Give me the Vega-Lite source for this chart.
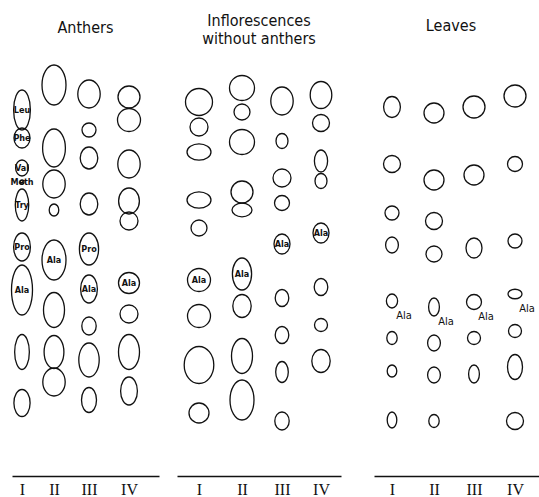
{
  "$schema": "https://vega.github.io/schema/vega-lite/v6.json",
  "background": "white",
  "padding": {"left": 8, "top": 13, "right": 0, "bottom": 0},
  "data": {"values": [
    {"panel": "Anthers", "lane": 1, "d": 366, "len": 40, "form": "slender", "label": "Leu"},
    {"panel": "Anthers", "lane": 1, "d": 338, "len": 20, "form": "oval", "label": "Phe"},
    {"panel": "Anthers", "lane": 1, "d": 308, "len": 16, "form": "oval", "label": "Val"},
    {"panel": "Anthers", "lane": 1, "d": 294, "len": 4, "form": "round", "label": "Meth"},
    {"panel": "Anthers", "lane": 1, "d": 271, "len": 32, "form": "slender", "label": "Try"},
    {"panel": "Anthers", "lane": 1, "d": 229, "len": 28, "form": "tall", "label": "Pro"},
    {"panel": "Anthers", "lane": 1, "d": 186, "len": 50, "form": "slender", "label": "Ala"},
    {"panel": "Anthers", "lane": 1, "d": 124, "len": 35, "form": "slender", "label": null},
    {"panel": "Anthers", "lane": 1, "d": 73, "len": 27, "form": "tall", "label": null},
    {"panel": "Anthers", "lane": 2, "d": 391, "len": 40, "form": "tall", "label": null},
    {"panel": "Anthers", "lane": 2, "d": 328, "len": 38, "form": "tall", "label": null},
    {"panel": "Anthers", "lane": 2, "d": 292, "len": 28, "form": "oval", "label": null},
    {"panel": "Anthers", "lane": 2, "d": 266, "len": 12, "form": "oval", "label": null},
    {"panel": "Anthers", "lane": 2, "d": 216, "len": 40, "form": "tall", "label": "Ala"},
    {"panel": "Anthers", "lane": 2, "d": 166, "len": 35, "form": "tall", "label": null},
    {"panel": "Anthers", "lane": 2, "d": 124, "len": 33, "form": "tall", "label": null},
    {"panel": "Anthers", "lane": 2, "d": 94, "len": 28, "form": "oval", "label": null},
    {"panel": "Anthers", "lane": 3, "d": 382, "len": 28, "form": "oval", "label": null},
    {"panel": "Anthers", "lane": 3, "d": 346, "len": 14, "form": "round", "label": null},
    {"panel": "Anthers", "lane": 3, "d": 318, "len": 22, "form": "oval", "label": null},
    {"panel": "Anthers", "lane": 3, "d": 272, "len": 22, "form": "oval", "label": null},
    {"panel": "Anthers", "lane": 3, "d": 227, "len": 32, "form": "tall", "label": "Pro"},
    {"panel": "Anthers", "lane": 3, "d": 187, "len": 28, "form": "tall", "label": "Ala"},
    {"panel": "Anthers", "lane": 3, "d": 150, "len": 18, "form": "oval", "label": null},
    {"panel": "Anthers", "lane": 3, "d": 116, "len": 34, "form": "tall", "label": null},
    {"panel": "Anthers", "lane": 3, "d": 76, "len": 25, "form": "tall", "label": null},
    {"panel": "Anthers", "lane": 4, "d": 379, "len": 22, "form": "round", "label": null},
    {"panel": "Anthers", "lane": 4, "d": 356, "len": 23, "form": "round", "label": null},
    {"panel": "Anthers", "lane": 4, "d": 312, "len": 28, "form": "oval", "label": null},
    {"panel": "Anthers", "lane": 4, "d": 275, "len": 26, "form": "oval", "label": null},
    {"panel": "Anthers", "lane": 4, "d": 255, "len": 18, "form": "round", "label": null},
    {"panel": "Anthers", "lane": 4, "d": 193, "len": 21, "form": "round", "label": "Ala"},
    {"panel": "Anthers", "lane": 4, "d": 162, "len": 18, "form": "round", "label": null},
    {"panel": "Anthers", "lane": 4, "d": 124, "len": 35, "form": "tall", "label": null},
    {"panel": "Anthers", "lane": 4, "d": 85, "len": 28, "form": "tall", "label": null},

    {"panel": "Inflorescences", "lane": 1, "d": 374, "len": 27, "form": "round", "label": null},
    {"panel": "Inflorescences", "lane": 1, "d": 349, "len": 18, "form": "round", "label": null},
    {"panel": "Inflorescences", "lane": 1, "d": 324, "len": 24, "form": "wide", "label": null},
    {"panel": "Inflorescences", "lane": 1, "d": 276, "len": 24, "form": "wide", "label": null},
    {"panel": "Inflorescences", "lane": 1, "d": 248, "len": 16, "form": "round", "label": null},
    {"panel": "Inflorescences", "lane": 1, "d": 196, "len": 23, "form": "round", "label": "Ala"},
    {"panel": "Inflorescences", "lane": 1, "d": 160, "len": 23, "form": "round", "label": null},
    {"panel": "Inflorescences", "lane": 1, "d": 111, "len": 37, "form": "oval", "label": null},
    {"panel": "Inflorescences", "lane": 1, "d": 63, "len": 20, "form": "round", "label": null},
    {"panel": "Inflorescences", "lane": 2, "d": 388, "len": 25, "form": "round", "label": null},
    {"panel": "Inflorescences", "lane": 2, "d": 364, "len": 16, "form": "round", "label": null},
    {"panel": "Inflorescences", "lane": 2, "d": 334, "len": 25, "form": "round", "label": null},
    {"panel": "Inflorescences", "lane": 2, "d": 284, "len": 22, "form": "round", "label": null},
    {"panel": "Inflorescences", "lane": 2, "d": 266, "len": 20, "form": "wide", "label": null},
    {"panel": "Inflorescences", "lane": 2, "d": 202, "len": 32, "form": "tall", "label": "Ala"},
    {"panel": "Inflorescences", "lane": 2, "d": 170, "len": 23, "form": "oval", "label": null},
    {"panel": "Inflorescences", "lane": 2, "d": 120, "len": 35, "form": "tall", "label": null},
    {"panel": "Inflorescences", "lane": 2, "d": 76, "len": 40, "form": "tall", "label": null},
    {"panel": "Inflorescences", "lane": 3, "d": 375, "len": 28, "form": "oval", "label": null},
    {"panel": "Inflorescences", "lane": 3, "d": 335, "len": 15, "form": "oval", "label": null},
    {"panel": "Inflorescences", "lane": 3, "d": 298, "len": 18, "form": "round", "label": null},
    {"panel": "Inflorescences", "lane": 3, "d": 273, "len": 15, "form": "round", "label": null},
    {"panel": "Inflorescences", "lane": 3, "d": 232, "len": 20, "form": "oval", "label": "Ala"},
    {"panel": "Inflorescences", "lane": 3, "d": 178, "len": 17, "form": "oval", "label": null},
    {"panel": "Inflorescences", "lane": 3, "d": 141, "len": 17, "form": "oval", "label": null},
    {"panel": "Inflorescences", "lane": 3, "d": 104, "len": 21, "form": "tall", "label": null},
    {"panel": "Inflorescences", "lane": 3, "d": 55, "len": 18, "form": "oval", "label": null},
    {"panel": "Inflorescences", "lane": 4, "d": 381, "len": 27, "form": "oval", "label": null},
    {"panel": "Inflorescences", "lane": 4, "d": 353, "len": 17, "form": "round", "label": null},
    {"panel": "Inflorescences", "lane": 4, "d": 315, "len": 22, "form": "tall", "label": null},
    {"panel": "Inflorescences", "lane": 4, "d": 295, "len": 15, "form": "oval", "label": null},
    {"panel": "Inflorescences", "lane": 4, "d": 243, "len": 20, "form": "oval", "label": "Ala"},
    {"panel": "Inflorescences", "lane": 4, "d": 189, "len": 17, "form": "oval", "label": null},
    {"panel": "Inflorescences", "lane": 4, "d": 151, "len": 13, "form": "round", "label": null},
    {"panel": "Inflorescences", "lane": 4, "d": 115, "len": 23, "form": "oval", "label": null},

    {"panel": "Leaves", "lane": 1, "d": 369, "len": 21, "form": "oval", "label": null},
    {"panel": "Leaves", "lane": 1, "d": 312, "len": 17, "form": "round", "label": null},
    {"panel": "Leaves", "lane": 1, "d": 263, "len": 14, "form": "round", "label": null},
    {"panel": "Leaves", "lane": 1, "d": 231, "len": 16, "form": "oval", "label": null},
    {"panel": "Leaves", "lane": 1, "d": 175, "len": 14, "form": "oval", "label": "Ala"},
    {"panel": "Leaves", "lane": 1, "d": 138, "len": 13, "form": "oval", "label": null},
    {"panel": "Leaves", "lane": 1, "d": 105, "len": 12, "form": "oval", "label": null},
    {"panel": "Leaves", "lane": 1, "d": 56, "len": 16, "form": "tall", "label": null},
    {"panel": "Leaves", "lane": 2, "d": 363, "len": 20, "form": "round", "label": null},
    {"panel": "Leaves", "lane": 2, "d": 296, "len": 20, "form": "round", "label": null},
    {"panel": "Leaves", "lane": 2, "d": 255, "len": 17, "form": "round", "label": null},
    {"panel": "Leaves", "lane": 2, "d": 222, "len": 16, "form": "round", "label": null},
    {"panel": "Leaves", "lane": 2, "d": 169, "len": 18, "form": "tall", "label": "Ala"},
    {"panel": "Leaves", "lane": 2, "d": 133, "len": 16, "form": "oval", "label": null},
    {"panel": "Leaves", "lane": 2, "d": 101, "len": 16, "form": "oval", "label": null},
    {"panel": "Leaves", "lane": 2, "d": 55, "len": 13, "form": "oval", "label": null},
    {"panel": "Leaves", "lane": 3, "d": 369, "len": 22, "form": "round", "label": null},
    {"panel": "Leaves", "lane": 3, "d": 301, "len": 20, "form": "round", "label": null},
    {"panel": "Leaves", "lane": 3, "d": 228, "len": 20, "form": "oval", "label": null},
    {"panel": "Leaves", "lane": 3, "d": 174, "len": 15, "form": "round", "label": "Ala"},
    {"panel": "Leaves", "lane": 3, "d": 138, "len": 13, "form": "round", "label": null},
    {"panel": "Leaves", "lane": 3, "d": 102, "len": 18, "form": "tall", "label": null},
    {"panel": "Leaves", "lane": 4, "d": 380, "len": 22, "form": "round", "label": null},
    {"panel": "Leaves", "lane": 4, "d": 312, "len": 15, "form": "round", "label": null},
    {"panel": "Leaves", "lane": 4, "d": 235, "len": 14, "form": "round", "label": null},
    {"panel": "Leaves", "lane": 4, "d": 182, "len": 14, "form": "wide", "label": "Ala"},
    {"panel": "Leaves", "lane": 4, "d": 145, "len": 13, "form": "round", "label": null},
    {"panel": "Leaves", "lane": 4, "d": 109, "len": 25, "form": "tall", "label": null},
    {"panel": "Leaves", "lane": 4, "d": 55, "len": 17, "form": "round", "label": null}
  ]},
  "config": {
    "view": {"stroke": null},
    "title": {"font": "DejaVu Sans Condensed", "fontSize": 16, "fontWeight": "normal", "color": "#111111", "lineHeight": 18, "anchor": "middle"},
    "axis": {"grid": false, "ticks": false, "title": null, "domainColor": "#111111", "domainWidth": 1.5, "labelFont": "Liberation Serif", "labelFontSize": 16, "labelColor": "#111111", "labelPadding": 5, "labelFlush": false, "labelOverlap": false, "values": [1, 2, 3, 4], "labelExpr": "['', 'I', 'II', 'III', 'IV'][datum.value]"}
  },
  "spacing": 18,
  "bounds": "flush",
  "hconcat": [
    {
      "title": {"text": "Anthers", "offset": 14},
      "width": 147,
      "height": 426,
      "transform": [{"filter": "datum.panel === 'Anthers'"}],
      "encoding": {
        "x": {"field": "lane", "type": "quantitative", "scale": {"domain": [0.7, 1, 2, 3, 4, 4.8], "range": [0, 10, 42, 77, 117, 147], "nice": false, "zero": false}},
        "y": {"field": "d", "type": "quantitative", "scale": {"domain": [0, 426], "nice": false}, "axis": null}
      },
      "layer": [
        {
          "mark": {"type": "point", "filled": false, "color": "#111111", "strokeWidth": 1.3, "opacity": 1},
          "encoding": {
            "shape": {"field": "form", "type": "nominal", "legend": null, "scale": {"domain": ["round", "oval", "tall", "slender", "wide"], "range": ["circle", "M0.8,0C0.8,0.552 0.442,1 0,1C-0.442,1 -0.8,0.552 -0.8,0C-0.8,-0.552 -0.442,-1 0,-1C0.442,-1 0.8,-0.552 0.8,0Z", "M0.6,0C0.6,0.552 0.331,1 0,1C-0.331,1 -0.6,0.552 -0.6,0C-0.6,-0.552 -0.331,-1 0,-1C0.331,-1 0.6,-0.552 0.6,0Z", "M0.42,0C0.42,0.552 0.232,1 0,1C-0.232,1 -0.42,0.552 -0.42,0C-0.42,-0.552 -0.232,-1 0,-1C0.232,-1 0.42,-0.552 0.42,0Z", "M1,0C1,0.376 0.552,0.68 0,0.68C-0.552,0.68 -1,0.376 -1,0C-1,-0.376 -0.552,-0.68 0,-0.68C0.552,-0.68 1,-0.376 1,0Z"]}},
            "size": {"field": "len", "type": "quantitative", "legend": null, "scale": {"type": "pow", "exponent": 2, "domain": [0, 50], "range": [0, 2500]}}
          }
        },
        {
          "transform": [{"filter": "datum.label != null"}],
          "mark": {"type": "text", "font": "DejaVu Sans Condensed", "fontWeight": "bold", "fontSize": 9, "color": "#111111"},
          "encoding": {"text": {"field": "label"}}
        }
      ]
    },
    {
      "title": {"text": ["Inflorescences", "without anthers"], "offset": 3},
      "width": 164,
      "height": 426,
      "transform": [{"filter": "datum.panel === 'Inflorescences'"}],
      "encoding": {
        "x": {"field": "lane", "type": "quantitative", "scale": {"domain": [0.5, 1, 2, 3, 4, 4.5], "range": [0, 22, 65, 105, 144, 164], "nice": false, "zero": false}},
        "y": {"field": "d", "type": "quantitative", "scale": {"domain": [0, 426], "nice": false}, "axis": null}
      },
      "layer": [
        {
          "mark": {"type": "point", "filled": false, "color": "#111111", "strokeWidth": 1.3, "opacity": 1},
          "encoding": {
            "shape": {"field": "form", "type": "nominal", "legend": null, "scale": {"domain": ["round", "oval", "tall", "slender", "wide"], "range": ["circle", "M0.8,0C0.8,0.552 0.442,1 0,1C-0.442,1 -0.8,0.552 -0.8,0C-0.8,-0.552 -0.442,-1 0,-1C0.442,-1 0.8,-0.552 0.8,0Z", "M0.6,0C0.6,0.552 0.331,1 0,1C-0.331,1 -0.6,0.552 -0.6,0C-0.6,-0.552 -0.331,-1 0,-1C0.331,-1 0.6,-0.552 0.6,0Z", "M0.42,0C0.42,0.552 0.232,1 0,1C-0.232,1 -0.42,0.552 -0.42,0C-0.42,-0.552 -0.232,-1 0,-1C0.232,-1 0.42,-0.552 0.42,0Z", "M1,0C1,0.376 0.552,0.68 0,0.68C-0.552,0.68 -1,0.376 -1,0C-1,-0.376 -0.552,-0.68 0,-0.68C0.552,-0.68 1,-0.376 1,0Z"]}},
            "size": {"field": "len", "type": "quantitative", "legend": null, "scale": {"type": "pow", "exponent": 2, "domain": [0, 50], "range": [0, 2500]}}
          }
        },
        {
          "transform": [{"filter": "datum.label != null"}],
          "mark": {"type": "text", "font": "DejaVu Sans Condensed", "fontWeight": "bold", "fontSize": 9, "color": "#111111"},
          "encoding": {"text": {"field": "label"}}
        }
      ]
    },
    {
      "title": {"text": "Leaves", "offset": 16},
      "width": 184,
      "height": 426,
      "transform": [{"filter": "datum.panel === 'Leaves'"}],
      "encoding": {
        "x": {"field": "lane", "type": "quantitative", "scale": {"domain": [0.6, 1, 2, 3, 4, 4.7], "range": [15, 33, 75, 115, 156, 184], "nice": false, "zero": false}},
        "y": {"field": "d", "type": "quantitative", "scale": {"domain": [0, 426], "nice": false}, "axis": null}
      },
      "layer": [
        {
          "mark": {"type": "point", "filled": false, "color": "#111111", "strokeWidth": 1.3, "opacity": 1},
          "encoding": {
            "shape": {"field": "form", "type": "nominal", "legend": null, "scale": {"domain": ["round", "oval", "tall", "slender", "wide"], "range": ["circle", "M0.8,0C0.8,0.552 0.442,1 0,1C-0.442,1 -0.8,0.552 -0.8,0C-0.8,-0.552 -0.442,-1 0,-1C0.442,-1 0.8,-0.552 0.8,0Z", "M0.6,0C0.6,0.552 0.331,1 0,1C-0.331,1 -0.6,0.552 -0.6,0C-0.6,-0.552 -0.331,-1 0,-1C0.331,-1 0.6,-0.552 0.6,0Z", "M0.42,0C0.42,0.552 0.232,1 0,1C-0.232,1 -0.42,0.552 -0.42,0C-0.42,-0.552 -0.232,-1 0,-1C0.232,-1 0.42,-0.552 0.42,0Z", "M1,0C1,0.376 0.552,0.68 0,0.68C-0.552,0.68 -1,0.376 -1,0C-1,-0.376 -0.552,-0.68 0,-0.68C0.552,-0.68 1,-0.376 1,0Z"]}},
            "size": {"field": "len", "type": "quantitative", "legend": null, "scale": {"type": "pow", "exponent": 2, "domain": [0, 50], "range": [0, 2500]}}
          }
        },
        {
          "transform": [{"filter": "datum.label != null"}],
          "mark": {"type": "text", "font": "DejaVu Sans Condensed", "fontSize": 11, "dx": 12, "dy": 15, "color": "#111111"},
          "encoding": {"text": {"field": "label"}}
        }
      ]
    }
  ]
}
